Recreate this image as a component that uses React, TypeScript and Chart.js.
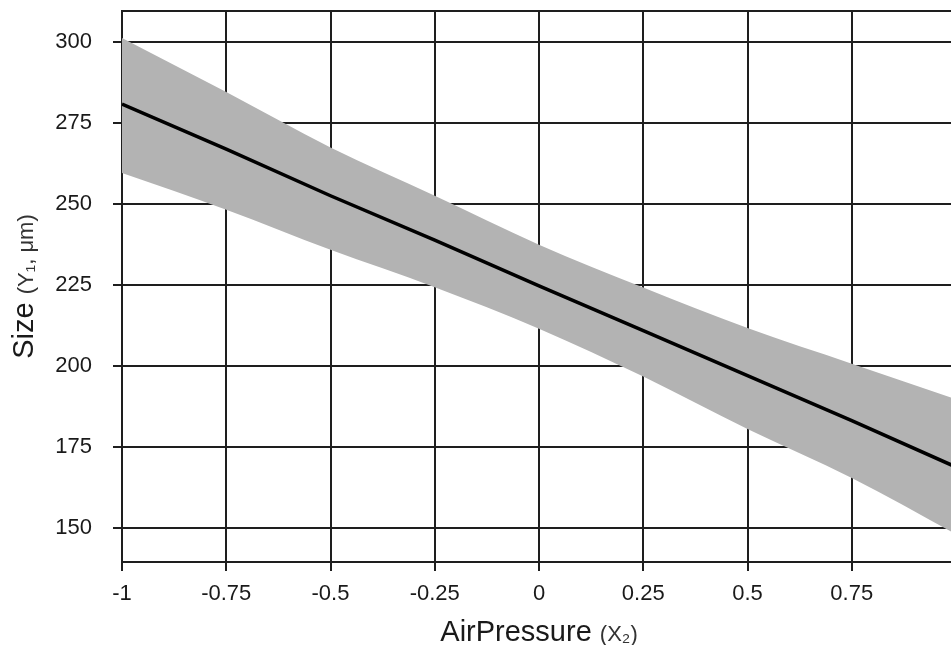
import React, { useEffect, useRef } from "react";
import { Chart, registerables } from "chart.js";

Chart.register(...registerables);

const xValues = [-1, -0.75, -0.5, -0.25, 0, 0.25, 0.5, 0.75, 1];
const fitValues = [280.9, 267.0, 252.6, 238.9, 224.8, 211.0, 197.1, 183.2, 168.9];
const upperValues = [301.3, 284.6, 267.5, 252.6, 237.5, 224.3, 211.8, 200.8, 189.8];
const lowerValues = [259.6, 248.3, 235.9, 224.4, 211.6, 196.8, 180.6, 165.5, 148.2];

const xTickValues = [-1, -0.75, -0.5, -0.25, 0, 0.25, 0.5, 0.75, 1];
const xTickLabels = ["-1", "-0.75", "-0.5", "-0.25", "0", "0.25", "0.5", "0.75", "1"];
const yTickValues = [150, 175, 200, 225, 250, 275, 300];
const yTickLabels = ["150", "175", "200", "225", "250", "275", "300"];

const xTitleMain = "AirPressure";
const xTitleSub = "(X\u2082)";
const yTitleMain = "Size";
const yTitleSub = "(Y\u2081, \u03bcm)";

const FONT = "'Liberation Sans', Arial, sans-serif";
const GRID = "#1e1e1e";

const titlePlugin = {
  id: "customTitles",
  afterDraw(chart: any) {
    const { ctx, chartArea } = chart;
    ctx.save();
    // top border
    ctx.strokeStyle = GRID;
    ctx.lineWidth = 2;
    ctx.beginPath();
    ctx.moveTo(chartArea.left, Math.round(chartArea.top));
    ctx.lineTo(chartArea.right, Math.round(chartArea.top));
    ctx.stroke();

    const big = `29px ${FONT}`;
    const small = `22px ${FONT}`;
    ctx.textBaseline = "alphabetic";
    ctx.textAlign = "left";

    // x title
    ctx.font = big;
    const wMain = ctx.measureText(xTitleMain + " ").width;
    ctx.font = small;
    const wSub = ctx.measureText(xTitleSub).width;
    const cx = (chartArea.left + chartArea.right) / 2;
    const sx = cx - (wMain + wSub) / 2;
    ctx.font = big;
    ctx.fillStyle = "#1a1a1a";
    ctx.fillText(xTitleMain + " ", sx, 641);
    ctx.font = small;
    ctx.fillStyle = "#333333";
    ctx.fillText(xTitleSub, sx + wMain, 641);

    // y title
    ctx.font = big;
    const yMain = ctx.measureText(yTitleMain + " ").width;
    ctx.font = small;
    const ySub = ctx.measureText(yTitleSub).width;
    const cy = (chartArea.top + chartArea.bottom) / 2;
    ctx.translate(32.5, cy);
    ctx.rotate(-Math.PI / 2);
    const st = -(yMain + ySub) / 2;
    ctx.font = big;
    ctx.fillStyle = "#1a1a1a";
    ctx.fillText(yTitleMain + " ", st, 0);
    ctx.font = small;
    ctx.fillStyle = "#333333";
    ctx.fillText(yTitleSub, st + yMain, 0);
    ctx.restore();
  },
};

export default function App() {
  const ref = useRef<HTMLCanvasElement>(null);
  useEffect(() => {
    if (!ref.current) return;
    const mk = (ys: number[]) => xValues.map((x, i) => ({ x, y: ys[i] }));
    const chart = new Chart(ref.current, {
      type: "line",
      data: {
        datasets: [
          {
            label: "upper",
            data: mk(upperValues),
            borderWidth: 0,
            borderColor: "rgba(0,0,0,0)",
            backgroundColor: "#b3b3b3",
            pointRadius: 0,
            fill: "+1",
            order: 2,
            cubicInterpolationMode: "monotone",
          },
          {
            label: "lower",
            data: mk(lowerValues),
            borderWidth: 0,
            borderColor: "rgba(0,0,0,0)",
            backgroundColor: "#b3b3b3",
            pointRadius: 0,
            fill: false,
            order: 2,
            cubicInterpolationMode: "monotone",
          },
          {
            label: "fit",
            data: mk(fitValues),
            borderWidth: 3.5,
            borderColor: "#000000",
            pointRadius: 0,
            fill: false,
            order: 0,
          },
        ],
      },
      options: {
        responsive: false,
        animation: false,
        layout: { padding: { left: 0, right: 44, top: 11, bottom: 0 } },
        plugins: { legend: { display: false }, tooltip: { enabled: false } },
        scales: {
          x: {
            type: "linear",
            min: -1,
            max: 1,
            z: 1,
            afterBuildTicks: (s: any) => {
              s.ticks = xTickValues.map((v) => ({ value: v }));
            },
            afterFit: (s: any) => {
              s.height = 83;
              s.paddingLeft = 0;
              s.paddingRight = 0;
              s.paddingTop = 0;
              s.paddingBottom = 0;
            },
            grid: { color: GRID, lineWidth: 2, tickLength: 9, tickColor: GRID },
            border: { display: true, color: GRID, width: 2 },
            ticks: {
              autoSkip: false,
              maxRotation: 0,
              padding: 10,
              color: "#1a1a1a",
              font: { family: FONT, size: 22 },
              callback: (v: any) => {
                const i = xTickValues.indexOf(Number(v));
                return i >= 0 ? xTickLabels[i] : String(v);
              },
            },
          },
          y: {
            type: "linear",
            min: 139.6,
            max: 309.6,
            z: 1,
            afterBuildTicks: (s: any) => {
              s.ticks = yTickValues.map((v) => ({ value: v }));
            },
            afterFit: (s: any) => {
              s.width = 122;
              s.paddingLeft = 0;
              s.paddingRight = 0;
              s.paddingTop = 0;
              s.paddingBottom = 0;
            },
            grid: { color: GRID, lineWidth: 2, tickLength: 9, tickColor: GRID },
            border: { display: true, color: GRID, width: 2 },
            ticks: {
              autoSkip: false,
              padding: 21,
              color: "#1a1a1a",
              font: { family: FONT, size: 22 },
              callback: (v: any) => {
                const i = yTickValues.indexOf(Number(v));
                return i >= 0 ? yTickLabels[i] : String(v);
              },
            },
          },
        },
      },
      plugins: [titlePlugin],
    } as any);
    return () => chart.destroy();
  }, []);
  return (
    <div
      style={{
        position: "fixed",
        left: 0,
        top: 0,
        width: 951,
        height: 645,
        overflow: "hidden",
        background: "#ffffff",
      }}
    >
      <canvas ref={ref} width={1000} height={645} style={{ display: "block" }} />
    </div>
  );
}
